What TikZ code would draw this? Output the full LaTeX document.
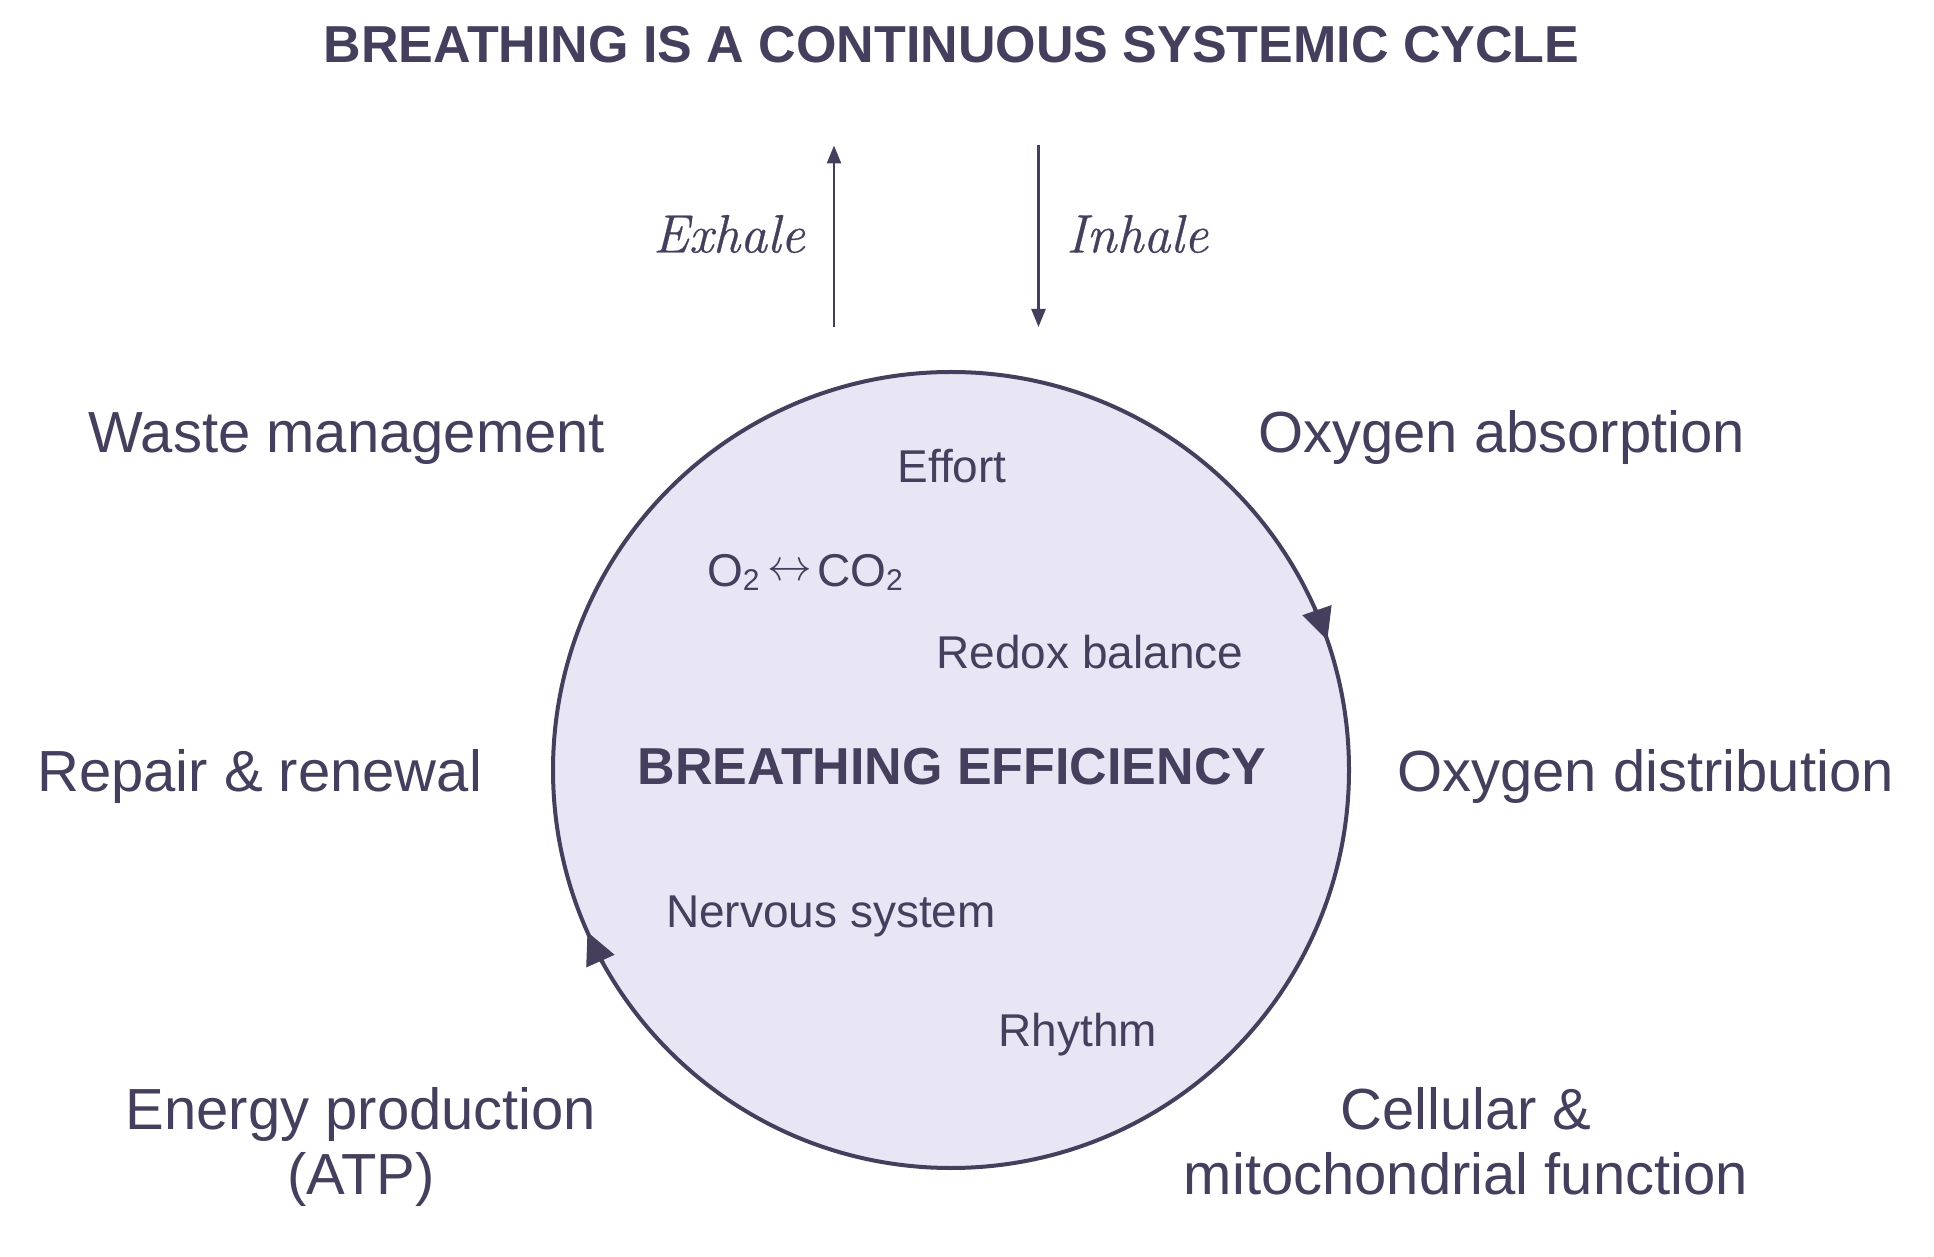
\documentclass[tikz,border=0pt]{standalone}
\usepackage{fontspec}
\setmainfont{Liberation Sans}
\newfontfamily\lmserif[FakeBold=0.6]{Latin Modern Roman}
\usetikzlibrary{arrows.meta}
\definecolor{ink}{HTML}{453F5D}
\definecolor{lav}{HTML}{E8E6F4}
\newcommand{\subtwo}{\raisebox{-0.08em}{\fontsize{30}{30}\selectfont 2}}
\newcommand{\lrarr}{\raisebox{0.14em}{\resizebox{0.97em}{!}{$\leftrightarrow$}}}
\tikzset{
  lbl/.style={text=ink, inner sep=0pt, anchor=base, font=\fontsize{58}{65}\selectfont},
  inner/.style={text=ink, inner sep=0pt, anchor=base, font=\fontsize{46}{52}\selectfont},
  bold/.style={text=ink, inner sep=0pt, anchor=base, font=\fontsize{52}{60}\selectfont\bfseries},
  flow/.style={text=ink, inner sep=0pt, font=\lmserif\itshape\fontsize{54}{60}\selectfont},
  airarrow/.style={draw=ink, line width=2.5pt, -{Triangle[length=18pt,width=14pt]}},
  cyclearrow/.style={draw=ink, line width=4pt, -{Triangle[length=32pt,width=30pt]}},
}
\begin{document}
\begin{tikzpicture}[x=1pt,y=1pt]
\useasboundingbox (0,0) rectangle (1934,1256);
% title
\node[bold] (title) at (951.5,1193) {BREATHING IS A CONTINUOUS SYSTEMIC CYCLE};
% breath arrows
\coordinate (exlo) at (834,929);
\coordinate (exhi) at (834,1110.5);
\coordinate (inhi) at (1038.5,1110.5);
\coordinate (inlo) at (1038.5,929);
\draw[airarrow] (exlo) -- (exhi);
\draw[airarrow] (inhi) -- (inlo);
\node[flow, anchor=base east] (exhale) at (805,1003.5) {Exhale};
\node[flow, anchor=base west] (inhale) at (1066,1003.5) {Inhale};
% circle
\node[circle, draw=ink, fill=lav, line width=4pt, minimum size=796pt, inner sep=0pt] (c) at (951,486) {};
\draw[cyclearrow] ([shift={(24:398)}]c.center) arc[start angle=24, end angle=19, radius=398];
\draw[cyclearrow] ([shift={(209:398)}]c.center) arc[start angle=209, end angle=204, radius=398];
% inner texts
\node[inner] (effort) at (952,773.5) {Effort};
\node[inner] (gas) at (805,669.5) {O\subtwo\hspace{0.18em}\lrarr\hspace{0.1em}CO\subtwo};
\node[inner] (redox) at (1090,587.5) {Redox balance};
\node[bold] (eff) at (952,471.4) {BREATHING EFFICIENCY};
\node[inner] (nerv) at (831,328.5) {Nervous system};
\node[inner] (rhythm) at (1078,209.5) {Rhythm};
% outer labels
\node[lbl] (waste) at (346.6,803) {Waste management};
\node[lbl] (oabs) at (1501.7,803) {Oxygen absorption};
\node[lbl] (repair) at (259.6,464.2) {Repair \& renewal};
\node[lbl] (odist) at (1645.4,464.2) {Oxygen distribution};
\node[lbl] (energy1) at (361,126.2) {Energy production};
\node[lbl] (energy2) at (361,61.2) {(ATP)};
\node[lbl] (cell1) at (1466,126.2) {Cellular \&};
\node[lbl] (cell2) at (1466,61.2) {mitochondrial function};
\end{tikzpicture}
\end{document}
